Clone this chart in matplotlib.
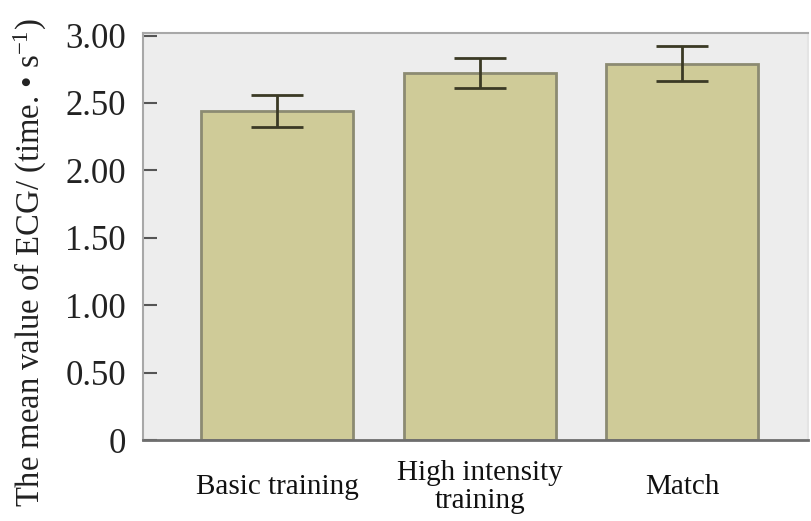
import numpy as np
import matplotlib
matplotlib.use("Agg")
import matplotlib.pyplot as plt

# ECG mean value per training condition
categories = ["Basic training", "High intensity\ntraining", "Match"]
ecg_mean = [2.44, 2.72, 2.79]
ecg_err = [0.12, 0.11, 0.13]
y_ticks = [0, 0.5, 1.0, 1.5, 2.0, 2.5, 3.0]
y_tick_labels = ["0", "0.50", "1.00", "1.50", "2.00", "2.50", "3.00"]

plt.rcParams["font.family"] = ["Liberation Serif", "DejaVu Serif"]
plt.rcParams["mathtext.fontset"] = "custom"
plt.rcParams["mathtext.rm"] = "Liberation Serif"
plt.rcParams["mathtext.it"] = "Liberation Serif:italic"

fig = plt.figure(figsize=(8.11, 5.21), dpi=100)
ax = fig.add_axes([0.176, 0.155, 0.82, 0.782])
ax.set_facecolor("#ededed")

x = np.arange(len(categories))
ax.bar(x, ecg_mean, width=0.75, color="#cfcb98", edgecolor="#8c8b72",
       linewidth=2.0, zorder=2)
ax.errorbar(x, ecg_mean, yerr=ecg_err, fmt="none", ecolor="#3b3a25",
            elinewidth=2.0, capsize=19, capthick=2.0, zorder=3)

ax.set_xlim(-0.665, 2.62)
ax.set_ylim(0, 3.02)
ax.set_yticks(y_ticks)
ax.set_yticklabels(y_tick_labels, fontsize=25, color="#222222")
ax.set_xticks(x)
ax.set_xticklabels(categories, fontsize=21, color="#111111",
                   linespacing=1.1, va="center")

ax.tick_params(axis="y", direction="in", length=10, width=1.5,
               color="#555555", pad=12)
ax.tick_params(axis="x", direction="in", length=8, width=1.5,
               color="#444444", pad=34)
for t in ax.get_xticklines():
    t.set_zorder(4)

for side in ["left", "top", "right"]:
    ax.spines[side].set_color("#a8a8a8")
    ax.spines[side].set_linewidth(1.5)
ax.spines["right"].set_color("#e4e4e4")
ax.spines["bottom"].set_color("#6e6e6e")
ax.spines["bottom"].set_linewidth(2.0)

fig.text(0.037, 0.495, "The mean value of ECG/ (time. \u2022 s$^{-1}$)",
         rotation=90, fontsize=23.5, color="#222222",
         ha="center", va="center")

fig.savefig("out.png", dpi=100, facecolor="white")
